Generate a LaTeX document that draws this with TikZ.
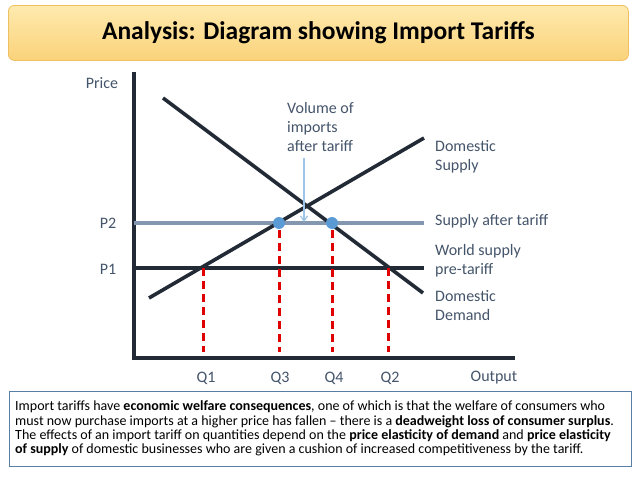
\documentclass[tikz,border=0pt]{standalone}
\usepackage{fontspec}
\setmainfont{Carlito}
\usetikzlibrary{arrows.meta,shadings}
\definecolor{labelc}{HTML}{44546A}
\definecolor{tarc}{HTML}{8497B0}
\definecolor{dotc}{HTML}{5B9BD5}
\definecolor{redc}{HTML}{E00000}
\definecolor{arrc}{HTML}{9DC3E6}
\definecolor{axc}{HTML}{222A35}
\definecolor{ttop}{HTML}{FEEAAE}
\definecolor{tbot}{HTML}{FAD27A}
\definecolor{tbrd}{HTML}{F0C060}
\definecolor{boxc}{HTML}{5A7FA6}
\tikzset{
  lbl/.style={text=labelc,font=\fontsize{16}{19}\selectfont,inner sep=0pt},
  rlbl/.style={lbl,anchor=west,align=left},
  curve/.style={line width=3.6pt,color=axc},
  dropline/.style={line width=3pt,color=redc,dash pattern=on 8pt off 5pt},
  dotm/.style={circle,fill=dotc,minimum size=12pt,inner sep=0pt},
}
\begin{document}
\begin{tikzpicture}[x=1pt,y=-1pt]
\useasboundingbox (0,0) rectangle (638,479);
% title
\node[draw=tbrd,line width=0.8pt,rounded corners=6pt,top color=ttop,bottom color=tbot,
  minimum width=620pt,minimum height=55pt,anchor=north west] (title) at (8,5) {};
\node[font=\fontsize{25.5}{28}\selectfont\bfseries] (ttext) at (title.center) {Analysis: Diagram showing Import Tariffs};
% axes
\coordinate (ytop) at (134,74);
\coordinate (orig) at (134,358);
\coordinate (xend) at (513,358);
\draw[curve,line cap=rect] (ytop) -- (orig) -- (xend);
% price lines
\coordinate (p2l) at (134,223);
\coordinate (p2r) at (424,223);
\coordinate (p1l) at (134,268);
\coordinate (p1r) at (424,268);
\draw[line width=3.6pt,color=tarc] (p2l) -- (p2r);
\draw[curve] (p1l) -- (p1r);
% supply and demand
\coordinate (s1) at (149,298);
\coordinate (s2) at (424,138);
\coordinate (d1) at (163,98);
\coordinate (d2) at (423,293);
\draw[curve] (s1) -- (s2);
\draw[curve] (d1) -- (d2);
% intersections and drops
\coordinate (q1t) at (203,268);
\coordinate (q1b) at (203,352);
\coordinate (q3t) at (279,230);
\coordinate (q3b) at (279,352);
\coordinate (q4t) at (332,230);
\coordinate (q4b) at (332,352);
\coordinate (q2t) at (388,268);
\coordinate (q2b) at (388,352);
\draw[dropline] (q1t) -- (q1b);
\draw[dropline] (q3t) -- (q3b);
\draw[dropline] (q4t) -- (q4b);
\draw[dropline] (q2t) -- (q2b);
\node[dotm] (dot3) at (279,223) {};
\node[dotm] (dot4) at (332,223) {};
% arrow
\coordinate (arrtop) at (304,158);
\coordinate (arrbot) at (304,222);
\draw[arrc,line width=1.2pt,-{Straight Barb[length=5pt,width=7pt]}] (arrtop) -- (arrbot);
% labels
\node[lbl] (price) at (102,83) {Price};
\node[lbl] (P2) at (108,223) {P2};
\node[lbl] (P1) at (108,269) {P1};
\node[rlbl,anchor=north west] (vol) at (287,102) {Volume of\\imports\\after tariff};
\node[rlbl] (dsup) at (435,157) {Domestic\\Supply};
\node[rlbl] (saft) at (435,221) {Supply after tariff};
\node[rlbl] (wsup) at (435,261) {World supply\\pre-tariff};
\node[rlbl] (ddem) at (435,306) {Domestic\\Demand};
\node[lbl] (Q1) at (206,378) {Q1};
\node[lbl] (Q3) at (280,378) {Q3};
\node[lbl] (Q4) at (334,378) {Q4};
\node[lbl] (Q2) at (390,378) {Q2};
\node[lbl] (out) at (494,378) {Output};
% bottom box
\node[draw=boxc,line width=0.9pt,minimum width=622pt,minimum height=75pt,anchor=north west] (box) at (9,391) {};
\node[anchor=west,align=left,inner sep=0pt,font=\fontsize{14}{14.3}\selectfont] (btext) at (15,428.5) {Import tariffs have \textbf{economic welfare consequences}, one of which is that the welfare of consumers who\\must now purchase imports at a higher price has fallen -- there is a \textbf{deadweight loss of consumer surplus}.\\The effects of an import tariff on quantities depend on the \textbf{price elasticity of demand} and \textbf{price elasticity}\\\textbf{of supply} of domestic businesses who are given a cushion of increased competitiveness by the tariff.};
\end{tikzpicture}
\end{document}
